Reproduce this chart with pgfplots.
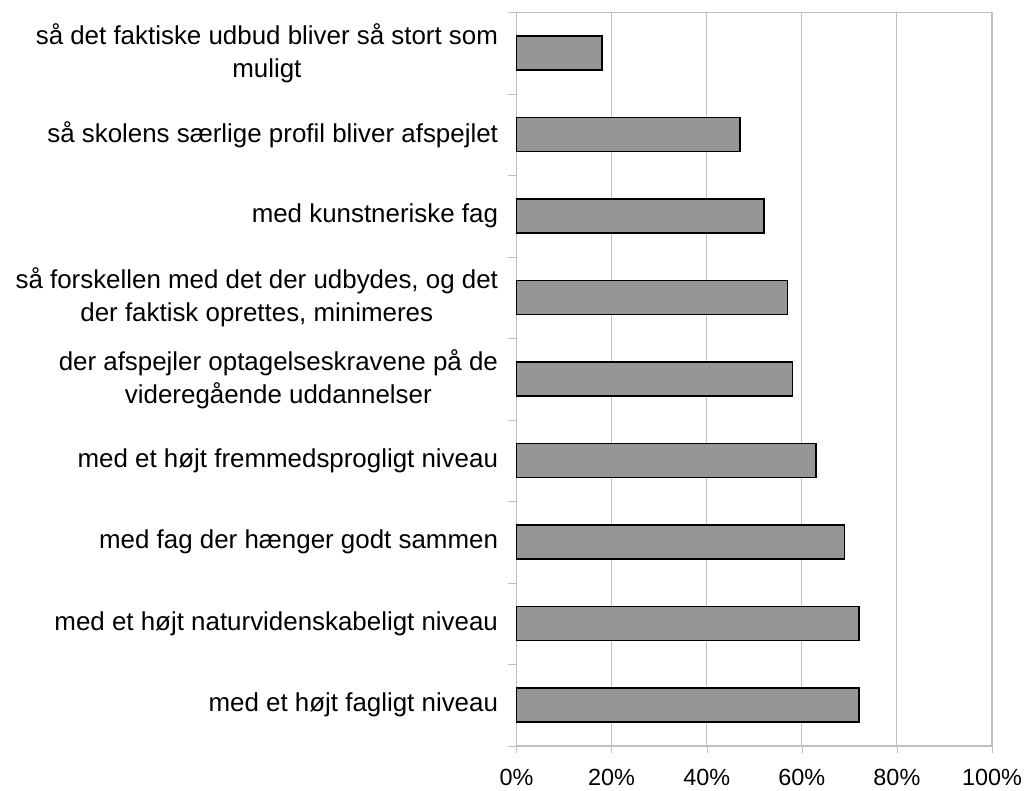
\documentclass[border=0pt]{standalone}
\usepackage{pgfplots}
\pgfplotsset{compat=1.18}
\usepackage{fontspec}
\setmainfont{Liberation Sans}
\definecolor{barfill}{HTML}{969696}
\definecolor{gridc}{HTML}{C0C0C0}
\begin{document}
\begin{tikzpicture}[x=1bp,y=1bp]
\path[use as bounding box] (-516.5bp,-45bp) rectangle (508.5bp,746bp);
\begin{axis}[
  at={(0,0)}, anchor=south west,
  scale only axis, width=475.5bp, height=733.7bp,
  xmin=0, xmax=100, ymin=-0.5, ymax=8.5,
  y dir=reverse,
  xbar, bar width=34bp,
  xtick={0,20,...,100},
  xticklabel={\pgfmathprintnumber{\tick}\%},
  /pgf/number format/assume math mode=true,
  ytick={0,...,8},
  minor ytick={-0.5,0.5,...,8.5},
  yticklabels={
    {så det faktiske udbud bliver så stort som\\muligt},
    {så skolens særlige profil bliver afspejlet},
    {med kunstneriske fag},
    {så forskellen med det der udbydes, og det\\der faktisk oprettes, minimeres},
    {der afspejler optagelseskravene på de\\videregående uddannelser},
    {med et højt fremmedsprogligt niveau},
    {med fag der hænger godt sammen},
    {med et højt naturvidenskabeligt niveau},
    {med et højt fagligt niveau}},
  yticklabel style={font=\fontsize{26}{33}\selectfont, align=center, xshift=-8bp},
  xticklabel style={font=\fontsize{23.5}{27}\selectfont, yshift=-13bp},
  tick pos=left,
  major tick length=7bp,
  minor tick length=8bp,
  tick align=outside,
  every major y tick/.append style={draw=none},
  xtick style={draw=gridc},
  minor tick style={draw=gridc},
  xmajorgrids, grid style={draw=gridc, line width=0.9bp},
  axis line style={draw=gridc, line width=1.2bp},
  clip=false,
]
\addplot[fill=barfill, draw=black, line width=1.5bp] coordinates {
  (18,0) (47,1) (52,2) (57,3) (58,4) (63,5) (69,6) (72,7) (72,8)};
\end{axis}
\end{tikzpicture}
\end{document}
